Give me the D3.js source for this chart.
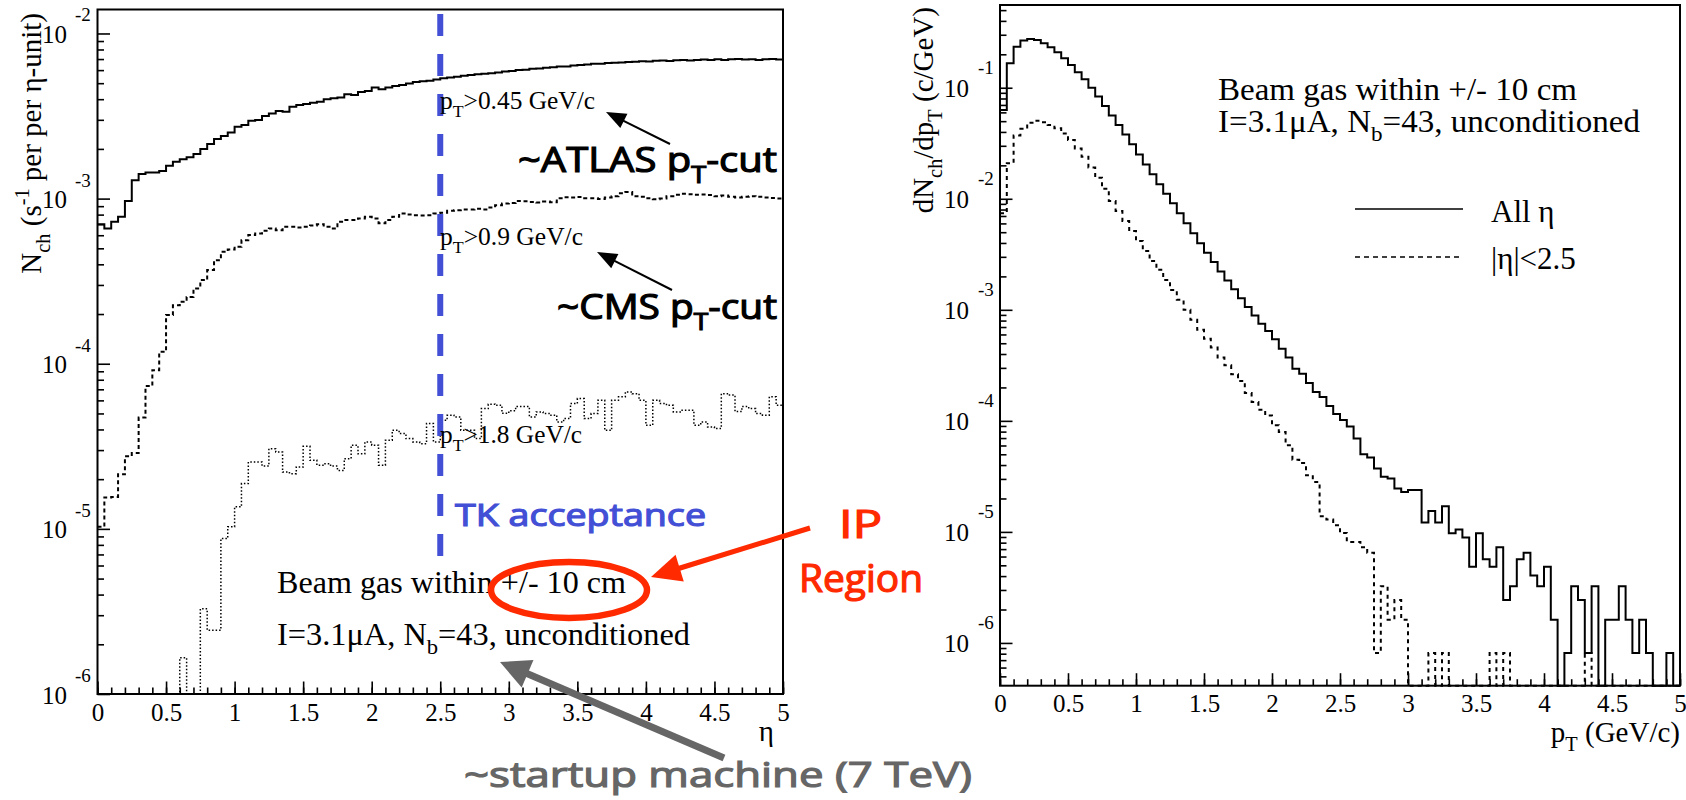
<!DOCTYPE html>
<html>
<head>
<meta charset="utf-8">
<script src="https://cdn.jsdelivr.net/npm/d3@7"></script>
<style>
  html, body { margin: 0; padding: 0; background: #fff; }
  svg { display: block; }
  .serif { font-family: "Liberation Serif", "Times New Roman", serif; fill: #000; }
  .hand { font-family: "Open Sans", "DejaVu Sans", sans-serif; font-weight: 400; stroke-width: 1.2px; }
</style>
</head>
<body>
<svg id="chart" width="1686" height="800"></svg>
<script>
// histograms: 100 bins of width 0.05 from 0 to 5
const binWidth = 0.05;

// left panel: Nch vs eta for three pT cuts
const etaPt045 = [
  7.00e-4, 6.59e-4, 7.24e-4, 7.76e-4, 9.66e-4, 1.29e-3, 1.41e-3, 1.44e-3, 1.44e-3, 1.47e-3,
  1.58e-3, 1.67e-3, 1.73e-3, 1.78e-3, 1.86e-3, 2.00e-3, 2.14e-3, 2.30e-3, 2.39e-3, 2.51e-3,
  2.72e-3, 2.79e-3, 2.96e-3, 2.99e-3, 3.16e-3, 3.28e-3, 3.39e-3, 3.36e-3, 3.60e-3, 3.69e-3,
  3.74e-3, 3.81e-3, 3.86e-3, 3.99e-3, 4.05e-3, 4.10e-3, 4.28e-3, 4.24e-3, 4.42e-3, 4.49e-3,
  4.70e-3, 4.59e-3, 4.70e-3, 4.81e-3, 4.88e-3, 4.97e-3, 5.08e-3, 5.13e-3, 5.18e-3, 5.27e-3,
  5.35e-3, 5.42e-3, 5.47e-3, 5.55e-3, 5.60e-3, 5.66e-3, 5.71e-3, 5.75e-3, 5.81e-3, 5.89e-3,
  5.92e-3, 6.00e-3, 6.03e-3, 6.11e-3, 6.14e-3, 6.21e-3, 6.24e-3, 6.31e-3, 6.32e-3, 6.40e-3,
  6.44e-3, 6.49e-3, 6.55e-3, 6.56e-3, 6.62e-3, 6.65e-3, 6.67e-3, 6.73e-3, 6.75e-3, 6.79e-3,
  6.76e-3, 6.84e-3, 6.87e-3, 6.82e-3, 6.89e-3, 6.92e-3, 6.87e-3, 6.90e-3, 6.95e-3, 6.92e-3,
  6.97e-3, 6.92e-3, 6.97e-3, 7.00e-3, 6.95e-3, 6.98e-3, 6.92e-3, 6.97e-3, 7.00e-3, 6.95e-3
];
const etaPt09 = [
  1.03e-5, 1.55e-5, 1.56e-5, 2.14e-5, 2.75e-5, 2.88e-5, 4.72e-5, 7.33e-5, 9.14e-5, 1.18e-4,
  1.97e-4, 2.26e-4, 2.37e-4, 2.54e-4, 2.86e-4, 3.21e-4, 3.69e-4, 4.24e-4, 4.76e-4, 4.92e-4,
  5.11e-4, 5.60e-4, 6.01e-4, 6.15e-4, 6.38e-4, 6.59e-4, 6.44e-4, 6.75e-4, 6.75e-4, 6.68e-4,
  6.75e-4, 6.88e-4, 7.00e-4, 6.75e-4, 6.59e-4, 7.24e-4, 7.41e-4, 7.41e-4, 7.59e-4, 7.76e-4,
  7.59e-4, 7.08e-4, 7.41e-4, 7.76e-4, 8.13e-4, 8.02e-4, 7.94e-4, 7.91e-4, 7.94e-4, 8.13e-4,
  8.20e-4, 8.43e-4, 8.51e-4, 8.59e-4, 8.59e-4, 8.67e-4, 8.59e-4, 8.83e-4, 9.12e-4, 9.33e-4,
  9.42e-4, 9.68e-4, 9.64e-4, 9.55e-4, 9.46e-4, 9.59e-4, 9.51e-4, 1.005e-3, 1.02e-3, 1.014e-3,
  1.023e-3, 1.005e-3, 1.005e-3, 9.95e-4, 1.014e-3, 1.035e-3, 1.076e-3, 1.096e-3, 1.035e-3, 1.026e-3,
  1.005e-3, 9.91e-4, 1.00e-3, 1.035e-3, 1.054e-3, 1.069e-3, 1.064e-3, 1.054e-3, 1.059e-3, 1.050e-3,
  1.035e-3, 1.045e-3, 1.026e-3, 1.016e-3, 1.026e-3, 1.035e-3, 1.026e-3, 1.016e-3, 1.007e-3, 1.00e-3
];
const etaPt18 = [
  0, 0, 0, 0, 0, 0, 0, 0, 0, 0,
  0, 0, 1.66e-6, 0, 0, 3.28e-6, 2.43e-6, 2.43e-6, 8.73e-6, 1.03e-5,
  1.36e-5, 1.88e-5, 2.54e-5, 2.54e-5, 2.40e-5, 3.06e-5, 2.92e-5, 2.21e-5, 2.16e-5, 2.37e-5,
  3.16e-5, 2.60e-5, 2.43e-5, 2.48e-5, 2.40e-5, 2.26e-5, 2.66e-5, 3.21e-5, 2.85e-5, 3.36e-5,
  3.21e-5, 2.43e-5, 3.44e-5, 3.95e-5, 3.78e-5, 3.52e-5, 3.36e-5, 3.28e-5, 4.35e-5, 3.36e-5,
  4.55e-5, 4.88e-5, 4.76e-5, 3.95e-5, 3.95e-5, 3.52e-5, 5.35e-5, 5.69e-5, 5.60e-5, 5.01e-5,
  5.19e-5, 5.50e-5, 5.50e-5, 4.76e-5, 5.11e-5, 4.99e-5, 4.88e-5, 4.44e-5, 4.66e-5, 5.74e-5,
  6.15e-5, 4.66e-5, 4.99e-5, 6.01e-5, 3.95e-5, 6.01e-5, 6.30e-5, 6.75e-5, 6.59e-5, 6.01e-5,
  4.24e-5, 6.01e-5, 5.74e-5, 5.60e-5, 5.11e-5, 5.22e-5, 5.22e-5, 4.24e-5, 4.44e-5, 4.14e-5,
  4.05e-5, 6.59e-5, 6.46e-5, 5.13e-5, 5.50e-5, 5.35e-5, 4.99e-5, 4.88e-5, 6.30e-5, 5.60e-5
];

// right panel: dNch/dpT, all eta and |eta|<2.5
const ptAllEta = [
  6.31e-2, 1.66e-1, 2.34e-1, 2.66e-1, 2.75e-1, 2.69e-1, 2.51e-1, 2.32e-1, 2.09e-1, 1.84e-1,
  1.60e-1, 1.38e-1, 1.19e-1, 1.00e-1, 8.32e-2, 6.84e-2, 5.62e-2, 4.62e-2, 3.80e-2, 3.09e-2,
  2.51e-2, 2.04e-2, 1.66e-2, 1.35e-2, 1.11e-2, 9.12e-3, 7.41e-3, 6.03e-3, 4.90e-3, 3.98e-3,
  3.27e-3, 2.69e-3, 2.21e-3, 1.84e-3, 1.53e-3, 1.27e-3, 1.06e-3, 8.91e-4, 7.50e-4, 6.46e-4,
  5.43e-4, 4.47e-4, 3.72e-4, 2.95e-4, 2.66e-4, 2.19e-4, 1.82e-4, 1.64e-4, 1.36e-4, 1.15e-4,
  1.02e-4, 8.91e-5, 6.92e-5, 5.01e-5, 4.68e-5, 3.72e-5, 3.13e-5, 3.02e-5, 2.46e-5, 2.29e-5,
  2.38e-5, 2.38e-5, 1.215e-5, 1.54e-5, 1.215e-5, 1.70e-5, 9.72e-6, 1.053e-5, 8.91e-6, 4.86e-6,
  9.72e-6, 5.67e-6, 4.86e-6, 7.29e-6, 2.43e-6, 3.24e-6, 5.67e-6, 6.48e-6, 4.05e-6, 3.24e-6,
  4.86e-6, 1.62e-6, 0, 8.1e-7, 3.24e-6, 2.43e-6, 8.1e-7, 3.24e-6, 0, 1.62e-6,
  1.62e-6, 3.24e-6, 1.62e-6, 8.1e-7, 1.62e-6, 8.1e-7, 0, 0, 8.1e-7, 0
];
const ptEta25 = [
  7.41e-3, 2.09e-2, 3.72e-2, 4.27e-2, 4.84e-2, 5.05e-2, 4.90e-2, 4.61e-2, 4.31e-2, 3.88e-2,
  3.39e-2, 2.84e-2, 2.39e-2, 1.91e-2, 1.55e-2, 1.23e-2, 9.55e-3, 7.76e-3, 6.31e-3, 5.13e-3,
  4.17e-3, 3.39e-3, 2.75e-3, 2.29e-3, 1.86e-3, 1.51e-3, 1.23e-3, 1.00e-3, 8.13e-4, 6.61e-4,
  5.50e-4, 4.57e-4, 3.72e-4, 3.16e-4, 2.63e-4, 2.29e-4, 1.78e-4, 1.48e-4, 1.26e-4, 1.12e-4,
  9.12e-5, 7.94e-5, 6.03e-5, 4.47e-5, 4.17e-5, 3.24e-5, 2.82e-5, 1.38e-5, 1.29e-5, 1.15e-5,
  9.77e-6, 8.13e-6, 8.13e-6, 7.29e-6, 6.48e-6, 8.1e-7, 3.24e-6, 1.62e-6, 2.43e-6, 1.62e-6,
  0, 0, 0, 8.1e-7, 0, 8.1e-7, 0, 0, 0, 0,
  0, 0, 8.1e-7, 0, 8.1e-7, 0, 0, 0, 0, 0,
  0, 0, 0, 0, 0, 0, 8.1e-7, 0, 0, 0,
  0, 0, 0, 0, 0, 0, 0, 0, 0, 0
];

// tick labels
const xMajorTicks = [0, 0.5, 1, 1.5, 2, 2.5, 3, 3.5, 4, 4.5, 5];
const leftYTicks = [1e-6, 1e-5, 1e-4, 1e-3, 1e-2];
const leftYExp = ["-6", "-5", "-4", "-3", "-2"];
const rightYTicks = [1e-6, 1e-5, 1e-4, 1e-3, 1e-2, 1e-1];
const rightYExp = ["-6", "-5", "-4", "-3", "-2", "-1"];

const svg = d3.select("#chart");
const blue = "#4350d6", red = "#ff2a00", grey = "#666666";

// text with sub/superscripts
function richText(parent, x, y, parts, o) {
  const t = parent.append("text")
    .attr("x", x).attr("y", y)
    .attr("class", o.cls || "serif")
    .attr("font-size", o.size)
    .attr("text-anchor", o.anchor || "start");
  if (o.fill) t.attr("fill", o.fill);
  if (o.cls === "hand") t.attr("stroke", o.fill || "#000");
  if (o.transform) t.attr("transform", o.transform);
  if (o.len) t.attr("textLength", o.len).attr("lengthAdjust", "spacingAndGlyphs");
  let shift = 0;
  parts.forEach(p => {
    const s = p.sub ? o.size * 0.3 : p.sup ? -o.size * 0.42 : 0;
    const ts = t.append("tspan").text(p.t).attr("dy", s - shift);
    if (p.sub || p.sup) ts.attr("font-size", o.size * (o.subScale || 0.7));
    shift = s;
  });
  return t;
}

function arrow(parent, x1, y1, x2, y2, o) {
  const dx = x2 - x1, dy = y2 - y1, L = Math.hypot(dx, dy);
  const ux = dx / L, uy = dy / L;
  const bx = x2 - ux * o.head, by = y2 - uy * o.head;
  parent.append("line")
    .attr("x1", x1).attr("y1", y1)
    .attr("x2", bx + ux * 2).attr("y2", by + uy * 2)
    .attr("stroke", o.color).attr("stroke-width", o.width);
  parent.append("polygon")
    .attr("points", [[x2, y2], [bx - uy * o.half, by + ux * o.half], [bx + uy * o.half, by - ux * o.half]].map(p => p.join(",")).join(" "))
    .attr("fill", o.color);
}

function minorLogTicks(domain) {
  const out = [];
  for (let e = -8; e <= 0; e++) {
    for (let m = 2; m <= 9; m++) {
      const v = m * Math.pow(10, e);
      if (v >= domain[0] && v <= domain[1]) out.push(v);
    }
  }
  return out;
}

function panel(box, yDomain, yTicks, yExp, lab) {
  const x = d3.scaleLinear().domain([0, 5]).range([box.x0, box.x1]);
  const y = d3.scaleLog().domain(yDomain).range([box.y1, box.y0]);

  // x axis ticks (pointing into the frame)
  svg.append("g")
    .attr("transform", `translate(0,${box.y1})`)
    .call(d3.axisBottom(x).tickValues(d3.range(0, 5.001, 0.1)).tickSize(-6.5).tickFormat(""))
    .call(g => g.select(".domain").remove())
    .call(g => g.selectAll("line").attr("stroke-width", 1.6));
  svg.append("g")
    .attr("transform", `translate(0,${box.y1})`)
    .call(d3.axisBottom(x).tickValues(xMajorTicks).tickSize(-12.5).tickPadding(lab.xPad).tickFormat(d => d))
    .attr("font-family", "Liberation Serif, serif")
    .attr("font-size", 25)
    .call(g => g.select(".domain").remove())
    .call(g => g.selectAll("line").attr("stroke-width", 1.6))
    .call(g => g.selectAll("text").attr("fill", "#000"));

  // y axis ticks
  svg.append("g")
    .attr("transform", `translate(${box.x0},0)`)
    .call(d3.axisLeft(y).tickValues(minorLogTicks(yDomain)).tickSize(-6.5).tickFormat(""))
    .call(g => g.select(".domain").remove())
    .call(g => g.selectAll("line").attr("stroke-width", 1.6));
  svg.append("g")
    .attr("transform", `translate(${box.x0},0)`)
    .call(d3.axisLeft(y).tickValues(yTicks).tickSize(-12.5).tickFormat(""))
    .call(g => g.select(".domain").remove())
    .call(g => g.selectAll("line").attr("stroke-width", 1.6));

  yTicks.forEach((v, i) => {
    svg.append("text").attr("class", "serif").attr("font-size", 25)
      .attr("text-anchor", "end")
      .attr("x", lab.tenX).attr("y", y(v) + lab.tenDy).text("10");
    svg.append("text").attr("class", "serif").attr("font-size", 19)
      .attr("x", lab.expX).attr("y", y(v) + lab.expDy).text(yExp[i]);
  });

  // frame
  svg.append("rect")
    .attr("x", box.x0).attr("y", box.y0)
    .attr("width", box.x1 - box.x0).attr("height", box.y1 - box.y0)
    .attr("fill", "none").attr("stroke", "#000").attr("stroke-width", 2);

  return { x, y };
}

function hist(sc, values, style) {
  const ymin = sc.y.domain()[0];
  const pts = values.map((v, i) => [i * binWidth, v]);
  pts.push([values.length * binWidth, values[values.length - 1]]);
  const line = d3.line()
    .x(d => sc.x(d[0]))
    .y(d => sc.y(Math.max(d[1], ymin)))
    .curve(d3.curveStepAfter);
  svg.append("path")
    .attr("d", line(pts))
    .attr("fill", "none")
    .attr("stroke", "#000")
    .attr("stroke-width", style.width)
    .attr("stroke-dasharray", style.dash || null);
}

// ---------- left panel ----------
const L = panel({ x0: 97.5, x1: 783, y0: 9.5, y1: 694 }, [1e-6, 1.397e-2], leftYTicks, leftYExp,
  { xPad: 9, tenX: 67, tenDy: 9.5, expX: 75, expDy: -12 });

hist(L, etaPt18, { width: 1.5, dash: "1.5,2" });
hist(L, etaPt09, { width: 2, dash: "4,3" });
hist(L, etaPt045, { width: 2 });

// tracker acceptance line at eta = 2.5
svg.append("line")
  .attr("x1", L.x(2.5)).attr("x2", L.x(2.5))
  .attr("y1", 14).attr("y2", 562)
  .attr("stroke", blue).attr("stroke-width", 6)
  .attr("stroke-dasharray", "22,18");

richText(svg, 440, 109, [{ t: "p" }, { t: "T", sub: true }, { t: ">0.45 GeV/c" }], { size: 25, len: 155 });
richText(svg, 440, 245, [{ t: "p" }, { t: "T", sub: true }, { t: ">0.9 GeV/c" }], { size: 25, len: 143 });
richText(svg, 440, 443, [{ t: "p" }, { t: "T", sub: true }, { t: ">1.8 GeV/c" }], { size: 25, len: 142 });

richText(svg, 277, 593, [{ t: "Beam gas within +/- 10 cm" }], { size: 31, len: 349 });
richText(svg, 277, 645, [{ t: "I=3.1\u03bcA, N" }, { t: "b", sub: true }, { t: "=43, unconditioned" }], { size: 31, len: 413 });

richText(svg, 0, 0, [{ t: "N" }, { t: "ch", sub: true }, { t: " (s" }, { t: "-1", sup: true }, { t: " per per \u03b7-unit)" }],
  { size: 29, anchor: "end", transform: "translate(41,13) rotate(-90)" });
richText(svg, 774, 741, [{ t: "\u03b7" }], { size: 29, anchor: "end" });

// hand-written annotations
richText(svg, 518, 172, [{ t: "~ATLAS p" }, { t: "T", sub: true }, { t: "-cut" }], { cls: "hand", size: 35, len: 259, subScale: 0.68 });
richText(svg, 557, 319, [{ t: "~CMS p" }, { t: "T", sub: true }, { t: "-cut" }], { cls: "hand", size: 35, len: 220, subScale: 0.68 });
richText(svg, 455, 526, [{ t: "TK acceptance" }], { cls: "hand", size: 31, len: 251, fill: blue });
richText(svg, 839, 538, [{ t: "IP" }], { cls: "hand", size: 38, len: 43, fill: red });
richText(svg, 799, 592, [{ t: "Region" }], { cls: "hand", size: 38, len: 124, fill: red });
richText(svg, 464, 787, [{ t: "~startup machine (7 TeV)" }], { cls: "hand", size: 35, len: 508, fill: grey });

arrow(svg, 670, 144, 606, 112, { color: "#000", width: 2, head: 20, half: 8 });
arrow(svg, 672, 290, 597, 252, { color: "#000", width: 2, head: 20, half: 8 });
arrow(svg, 810, 528, 651, 577, { color: red, width: 5, head: 30, half: 14 });
arrow(svg, 724, 758, 500, 662, { color: grey, width: 7, head: 30, half: 15 });

svg.append("ellipse")
  .attr("cx", 569).attr("cy", 590).attr("rx", 78).attr("ry", 28)
  .attr("fill", "none").attr("stroke", red).attr("stroke-width", 6.5);

// ---------- right panel ----------
const R = panel({ x0: 1000, x1: 1680, y0: 5, y1: 685.7 }, [4.12e-7, 0.556], rightYTicks, rightYExp,
  { xPad: 9, tenX: 969, tenDy: 9.5, expX: 978, expDy: -14 });

hist(R, ptEta25, { width: 2, dash: "4,4" });
hist(R, ptAllEta, { width: 2 });

richText(svg, 1218, 100, [{ t: "Beam gas within +/- 10 cm" }], { size: 31, len: 359 });
richText(svg, 1218, 132, [{ t: "I=3.1\u03bcA, N" }, { t: "b", sub: true }, { t: "=43, unconditioned" }], { size: 31, len: 422 });

// legend
svg.append("line").attr("x1", 1355).attr("x2", 1463).attr("y1", 209).attr("y2", 209)
  .attr("stroke", "#000").attr("stroke-width", 1.6);
svg.append("line").attr("x1", 1355).attr("x2", 1463).attr("y1", 257).attr("y2", 257)
  .attr("stroke", "#000").attr("stroke-width", 1.6).attr("stroke-dasharray", "5,4");
richText(svg, 1491, 222, [{ t: "All \u03b7" }], { size: 31 });
richText(svg, 1491, 269, [{ t: "|\u03b7|<2.5" }], { size: 31 });

richText(svg, 0, 0, [{ t: "dN" }, { t: "ch", sub: true }, { t: "/dp" }, { t: "T", sub: true }, { t: " (c/GeV)" }],
  { size: 29, anchor: "end", transform: "translate(933,7) rotate(-90)" });
richText(svg, 1680, 742, [{ t: "p" }, { t: "T", sub: true }, { t: " (GeV/c)" }], { size: 29, anchor: "end" });
</script>
</body>
</html>
